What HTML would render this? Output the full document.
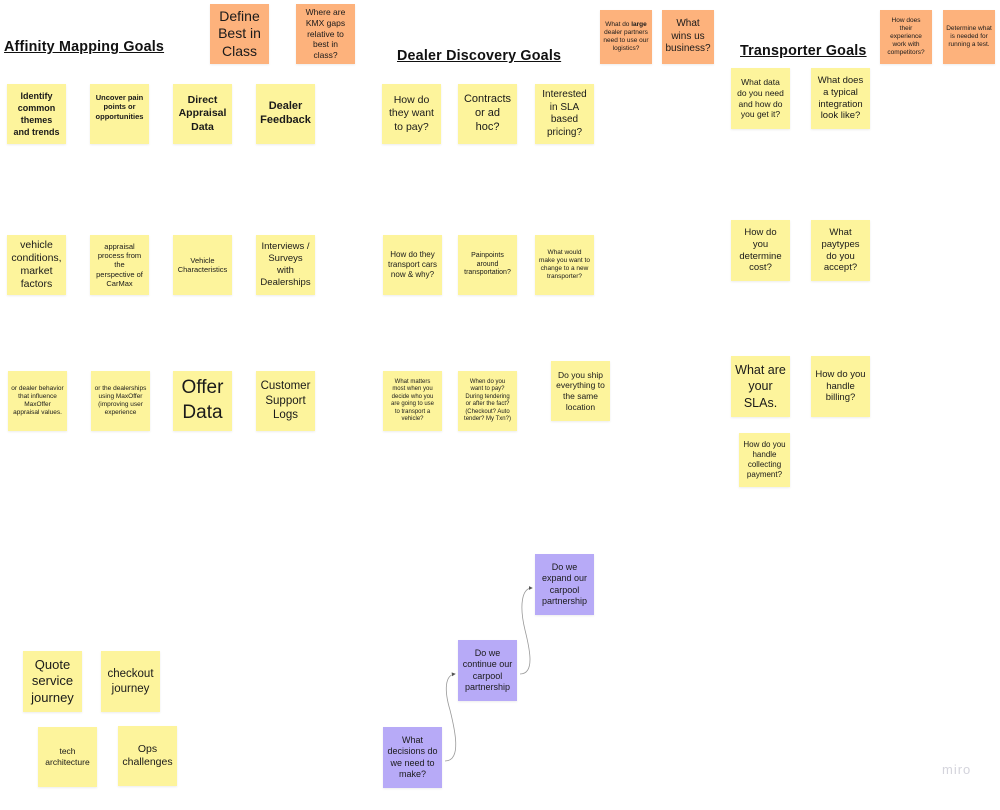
<!DOCTYPE html>
<html><head><meta charset="utf-8"><style>
body{margin:0;width:1000px;height:810px;background:#fff;position:relative;overflow:hidden;font-family:"Liberation Sans","DejaVu Sans",sans-serif;color:#1a1a1a}
.n{position:absolute;display:flex;align-items:center;justify-content:center;text-align:center;box-sizing:border-box;padding:2px 6px;line-height:1.25;box-shadow:0 1px 2px rgba(0,0,0,0.08)}
.y{background:#fdf49c}
.o{background:#fdb27c}
.p{background:#b7aaf7}
.t{position:absolute;font-weight:bold;font-size:14.3px;text-decoration:underline;color:#111;letter-spacing:0.2px}
.b{font-weight:bold}
</style></head><body>
<div class="t" style="left:4px;top:39px">Affinity Mapping Goals</div>
<div class="t" style="left:397px;top:48px">Dealer Discovery Goals</div>
<div class="t" style="left:740px;top:43px">Transporter Goals</div>

<div class="n o" style="left:210px;top:4px;width:59px;height:60px;font-size:14px;padding:2px 3px">Define Best in Class</div>
<div class="n o" style="left:296px;top:4px;width:59px;height:60px;font-size:8.5px">Where are KMX gaps relative to best in class?</div>

<div class="n y b" style="left:7px;top:84px;width:59px;height:60px;font-size:9px;line-height:1.35">Identify common themes and trends</div>
<div class="n y b" style="left:90px;top:84px;width:59px;height:60px;font-size:7.5px;align-items:flex-start;padding-top:9px">Uncover pain points or opportunities</div>
<div class="n y b" style="left:173px;top:84px;width:59px;height:60px;font-size:10.5px">Direct Appraisal Data</div>
<div class="n y b" style="left:256px;top:84px;width:59px;height:60px;font-size:11px">Dealer Feedback</div>

<div class="n y" style="left:7px;top:235px;width:59px;height:60px;font-size:10.5px">vehicle conditions, market factors</div>
<div class="n y" style="left:90px;top:235px;width:59px;height:60px;font-size:7.5px">appraisal process from the perspective of CarMax</div>
<div class="n y" style="left:173px;top:235px;width:59px;height:60px;font-size:7.5px;padding:2px 3px">Vehicle Characteristics</div>
<div class="n y" style="left:256px;top:235px;width:59px;height:60px;font-size:9.5px">Interviews / Surveys with Dealerships</div>

<div class="n y" style="left:8px;top:371px;width:59px;height:60px;font-size:6.5px;padding:2px 3px">or dealer behavior that influence MaxOffer appraisal values.</div>
<div class="n y" style="left:91px;top:371px;width:59px;height:60px;font-size:6.5px;padding:2px 3px">or the dealerships using MaxOffer (improving user experience</div>
<div class="n y" style="left:173px;top:371px;width:59px;height:60px;font-size:19px;line-height:1.3">Offer Data</div>
<div class="n y" style="left:256px;top:371px;width:59px;height:60px;font-size:11.5px;padding:2px 3px">Customer Support Logs</div>

<div class="n o" style="left:600px;top:10px;width:52px;height:54px;font-size:6.5px;padding:2px 3px"><span>What do <b>large</b> dealer partners need to use our logistics?</span></div>
<div class="n o" style="left:662px;top:10px;width:52px;height:54px;font-size:10px;padding:2px 3px">What wins us business?</div>

<div class="n y" style="left:382px;top:84px;width:59px;height:60px;font-size:10.5px;padding:2px 3px">How do they want to pay?</div>
<div class="n y" style="left:458px;top:84px;width:59px;height:60px;font-size:11px">Contracts or ad hoc?</div>
<div class="n y" style="left:535px;top:84px;width:59px;height:60px;font-size:10px">Interested in SLA based pricing?</div>

<div class="n y" style="left:383px;top:235px;width:59px;height:60px;font-size:8px;padding:2px 4px">How do they transport cars now &amp; why?</div>
<div class="n y" style="left:458px;top:235px;width:59px;height:60px;font-size:7px;padding:2px 3px">Painpoints around transportation?</div>
<div class="n y" style="left:535px;top:235px;width:59px;height:60px;font-size:6.5px;padding:2px 4px">What would make you want to change to a new transporter?</div>

<div class="n y" style="left:383px;top:371px;width:59px;height:60px;font-size:6px">What matters most when you decide who you are going to use to transport a vehicle?</div>
<div class="n y" style="left:458px;top:371px;width:59px;height:60px;font-size:6px">When do you want to pay? During tendering or after the fact? (Checkout? Auto tender? My Txn?)</div>
<div class="n y" style="left:551px;top:361px;width:59px;height:60px;font-size:8.5px;padding:2px 3px">Do you ship everything to the same location</div>

<div class="n o" style="left:880px;top:10px;width:52px;height:54px;font-size:6.5px">How does their experience work with competitors?</div>
<div class="n o" style="left:943px;top:10px;width:52px;height:54px;font-size:6.5px;padding:2px 3px">Determine what is needed for running a test.</div>

<div class="n y" style="left:731px;top:68px;width:59px;height:61px;font-size:8.5px">What data do you need and how do you get it?</div>
<div class="n y" style="left:811px;top:68px;width:59px;height:61px;font-size:9.5px">What does a typical integration look like?</div>
<div class="n y" style="left:731px;top:220px;width:59px;height:61px;font-size:9.5px;padding:2px 8px">How do you determine cost?</div>
<div class="n y" style="left:811px;top:220px;width:59px;height:61px;font-size:9.5px;padding:2px 8px">What paytypes do you accept?</div>
<div class="n y" style="left:731px;top:356px;width:59px;height:61px;font-size:12.5px;line-height:1.3;padding:2px 2px">What are your SLAs.</div>
<div class="n y" style="left:811px;top:356px;width:59px;height:61px;font-size:9.5px;padding:2px 4px">How do you handle billing?</div>
<div class="n y" style="left:739px;top:433px;width:51px;height:54px;font-size:8px;padding:2px 4px">How do you handle collecting payment?</div>

<div class="n y" style="left:23px;top:651px;width:59px;height:61px;font-size:13px">Quote service journey</div>
<div class="n y" style="left:101px;top:651px;width:59px;height:61px;font-size:11.5px">checkout journey</div>
<div class="n y" style="left:38px;top:727px;width:59px;height:60px;font-size:8.5px;padding:2px 2px">tech architecture</div>
<div class="n y" style="left:118px;top:726px;width:59px;height:60px;font-size:10.5px">Ops challenges</div>

<div class="n p" style="left:383px;top:727px;width:59px;height:61px;font-size:9px;padding:2px 3px">What decisions do we need to make?</div>
<div class="n p" style="left:458px;top:640px;width:59px;height:61px;font-size:9px;padding:2px 3px">Do we continue our carpool partnership</div>
<div class="n p" style="left:535px;top:554px;width:59px;height:61px;font-size:9px;padding:2px 3px">Do we expand our carpool partnership</div>

<svg style="position:absolute;left:0;top:0" width="1000" height="810">
<defs><marker id="a" markerWidth="5" markerHeight="5" refX="4" refY="2.5" orient="auto"><path d="M0,0 L5,2.5 L0,5z" fill="#555"/></marker></defs>
<path d="M445,761 C462,761 455,730 450,710 C444,690 445,675 455,674" fill="none" stroke="#999" stroke-width="0.8" marker-end="url(#a)"/>
<path d="M520,674 C535,674 530,650 525,630 C519,605 522,588 532,588" fill="none" stroke="#999" stroke-width="0.8" marker-end="url(#a)"/>
</svg>
<div style="position:absolute;left:942px;top:762px;font-size:13px;color:#d4d4dc;letter-spacing:1px">miro</div>
</body></html>
